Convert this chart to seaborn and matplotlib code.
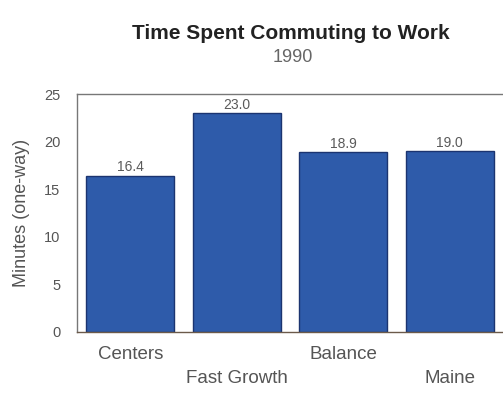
import matplotlib
matplotlib.use("Agg")
import matplotlib.pyplot as plt
import seaborn as sns
import pandas as pd

categories = ["Centers", "Fast Growth", "Balance", "Maine"]
minutes = [16.4, 23.0, 18.9, 19.0]
tick_labels = ["Centers", "\nFast Growth", "Balance", "\nMaine"]
yticks = [0, 5, 10, 15, 20, 25]

sns.set_theme(style="white")
plt.rcParams['font.family'] = ['Liberation Sans', 'DejaVu Sans']

df = pd.DataFrame({"cat": categories, "val": minutes})

fig = plt.figure(figsize=(5.03, 3.97), dpi=100)
ax = fig.add_axes([0.153, 0.164, 0.847, 0.599])

sns.barplot(data=df, x="cat", y="val", color="#2E5BAA", saturation=1,
            width=0.83, edgecolor="#1B3470", linewidth=1.0, ax=ax)

ax.set_ylim(0, 25)
ax.set_xlim(-0.5, 3.5)
ax.set_yticks(yticks)
ax.set_yticklabels([str(t) for t in yticks], fontsize=10.5, color="#555555")
ax.set_xticks(range(len(categories)))
ax.set_xticklabels(tick_labels, fontsize=13.5, color="#555555", linespacing=1.55)
ax.tick_params(axis="both", length=0)
ax.tick_params(axis="y", pad=12)
ax.tick_params(axis="x", pad=10)
ax.set_xlabel("")
ax.set_ylabel("Minutes (one-way)", fontsize=13, color="#555555", labelpad=10)

for i, v in enumerate(minutes):
    ax.text(i, v + 0.15, f"{v:.1f}", ha="center", va="bottom", fontsize=10, color="#5a5a5a")

for s in ["top", "left", "bottom"]:
    ax.spines[s].set_visible(True)
    ax.spines[s].set_color("#777777")
    ax.spines[s].set_linewidth(1.0)
ax.spines["right"].set_visible(False)
ax.spines["bottom"].set_color("#6b5a4a")

fig.text(0.578, 0.915, "Time Spent Commuting to Work", ha="center", va="center",
         fontsize=15, fontweight="bold", color="#222222")
fig.text(0.583, 0.855, "1990", ha="center", va="center", fontsize=13, color="#666666")

fig.savefig("out.png", dpi=100)
